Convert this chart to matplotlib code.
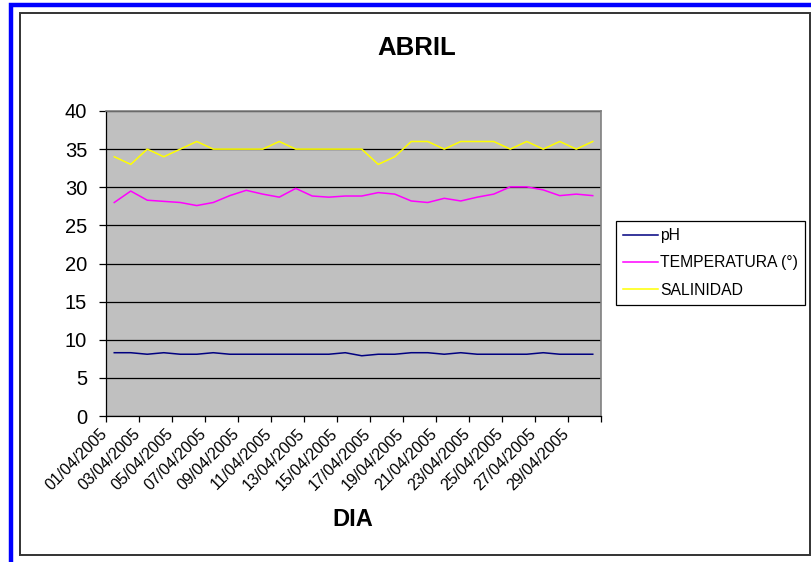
import matplotlib
matplotlib.use('Agg')
import matplotlib.pyplot as plt
from matplotlib.patches import Rectangle
from matplotlib.transforms import ScaledTranslation
import numpy as np

plt.rcParams['font.family'] = ['Liberation Sans', 'DejaVu Sans']

dias = ['%02d/04/2005' % d for d in range(1, 31)]
ph = [8.3, 8.3, 8.1, 8.3, 8.1, 8.1, 8.3, 8.1, 8.1, 8.1,
      8.1, 8.1, 8.1, 8.1, 8.3, 7.9, 8.1, 8.1, 8.3, 8.3,
      8.1, 8.3, 8.1, 8.1, 8.1, 8.1, 8.3, 8.1, 8.1, 8.1]
temperatura = [28.0, 29.5, 28.3, 28.15, 28.0, 27.6, 28.0, 28.9, 29.6, 29.1,
               28.7, 29.85, 28.85, 28.7, 28.85, 28.85, 29.3, 29.1, 28.2, 28.0,
               28.55, 28.2, 28.7, 29.1, 30.05, 30.05, 29.65, 28.9, 29.1, 28.9]
salinidad = [34, 33, 35, 34, 35, 36, 35, 35, 35, 35,
             36, 35, 35, 35, 35, 35, 33, 34, 36, 36,
             35, 36, 36, 36, 35, 36, 35, 36, 35, 36]

W, H = 811, 562
fig = plt.figure(figsize=(W / 100, H / 100), dpi=100)

# marco azul y marco negro del grafico
fig.patches.append(Rectangle((11 / W, -0.1), 1.2, 1 - 4.5 / H + 0.1,
                             transform=fig.transFigure, fill=False,
                             edgecolor='#0000FF', linewidth=3.2, zorder=0))
fig.patches.append(Rectangle((20 / W, 1 - 555 / H), (809.5 - 20) / W, (555 - 13) / H,
                             transform=fig.transFigure, fill=False,
                             edgecolor='#333333', linewidth=1.4, zorder=0))

ax = fig.add_axes([106 / W, 1 - 416 / H, (601 - 106) / W, (416 - 111) / H])
ax.set_facecolor('#C0C0C0')

x = np.arange(len(dias))
ax.plot(x, ph, color='#000080', lw=1.1, label='pH')
ax.plot(x, temperatura, color='#FF00FF', lw=1.1, label='TEMPERATURA (°)')
ax.plot(x, salinidad, color='#FFFF00', lw=1.1, label='SALINIDAD')

ax.set_xlim(-0.5, len(dias) - 0.5)
ax.set_ylim(0, 40)
ax.set_yticks(range(0, 41, 5))
ax.yaxis.grid(True, color='black', lw=0.9)
ax.set_axisbelow(True)
ax.tick_params(axis='y', direction='out', length=5, width=0.9, labelsize=14.5, pad=8.5)

ax.set_xticks(x[::2])
ax.set_xticklabels(dias[::2], rotation=45, ha='right', rotation_mode='anchor',
                   fontsize=11.5)
ax.set_xticks(np.arange(-0.5, len(dias), 2), minor=True)
ax.tick_params(axis='x', which='major', length=0, pad=7)
ax.tick_params(axis='x', which='minor', direction='out', length=4, width=0.9)
shift = ScaledTranslation(-11 / 72, 0, fig.dpi_scale_trans)
for lab in ax.get_xticklabels():
    lab.set_transform(lab.get_transform() + shift)

for s in ['top', 'right']:
    ax.spines[s].set_color('#808080')
    ax.spines[s].set_linewidth(1.2)
for s in ['left', 'bottom']:
    ax.spines[s].set_color('black')
    ax.spines[s].set_linewidth(0.9)

fig.text(417 / W, 1 - 48 / H, 'ABRIL', ha='center', va='center',
         fontsize=18.5, fontweight='bold')
fig.text(353 / W, 1 - 520 / H, 'DIA', ha='center', va='center',
         fontsize=17, fontweight='bold')

leg = ax.legend(loc='upper left', bbox_to_anchor=(616 / W, 1 - 221 / H),
                bbox_transform=fig.transFigure, frameon=True, fancybox=False,
                edgecolor='black', framealpha=1, fontsize=11.3,
                handlelength=2.2, handletextpad=0.15, labelspacing=0.78,
                borderpad=0.45, borderaxespad=0)
leg.get_frame().set_linewidth(0.9)

fig.savefig('out.png', dpi=100)
